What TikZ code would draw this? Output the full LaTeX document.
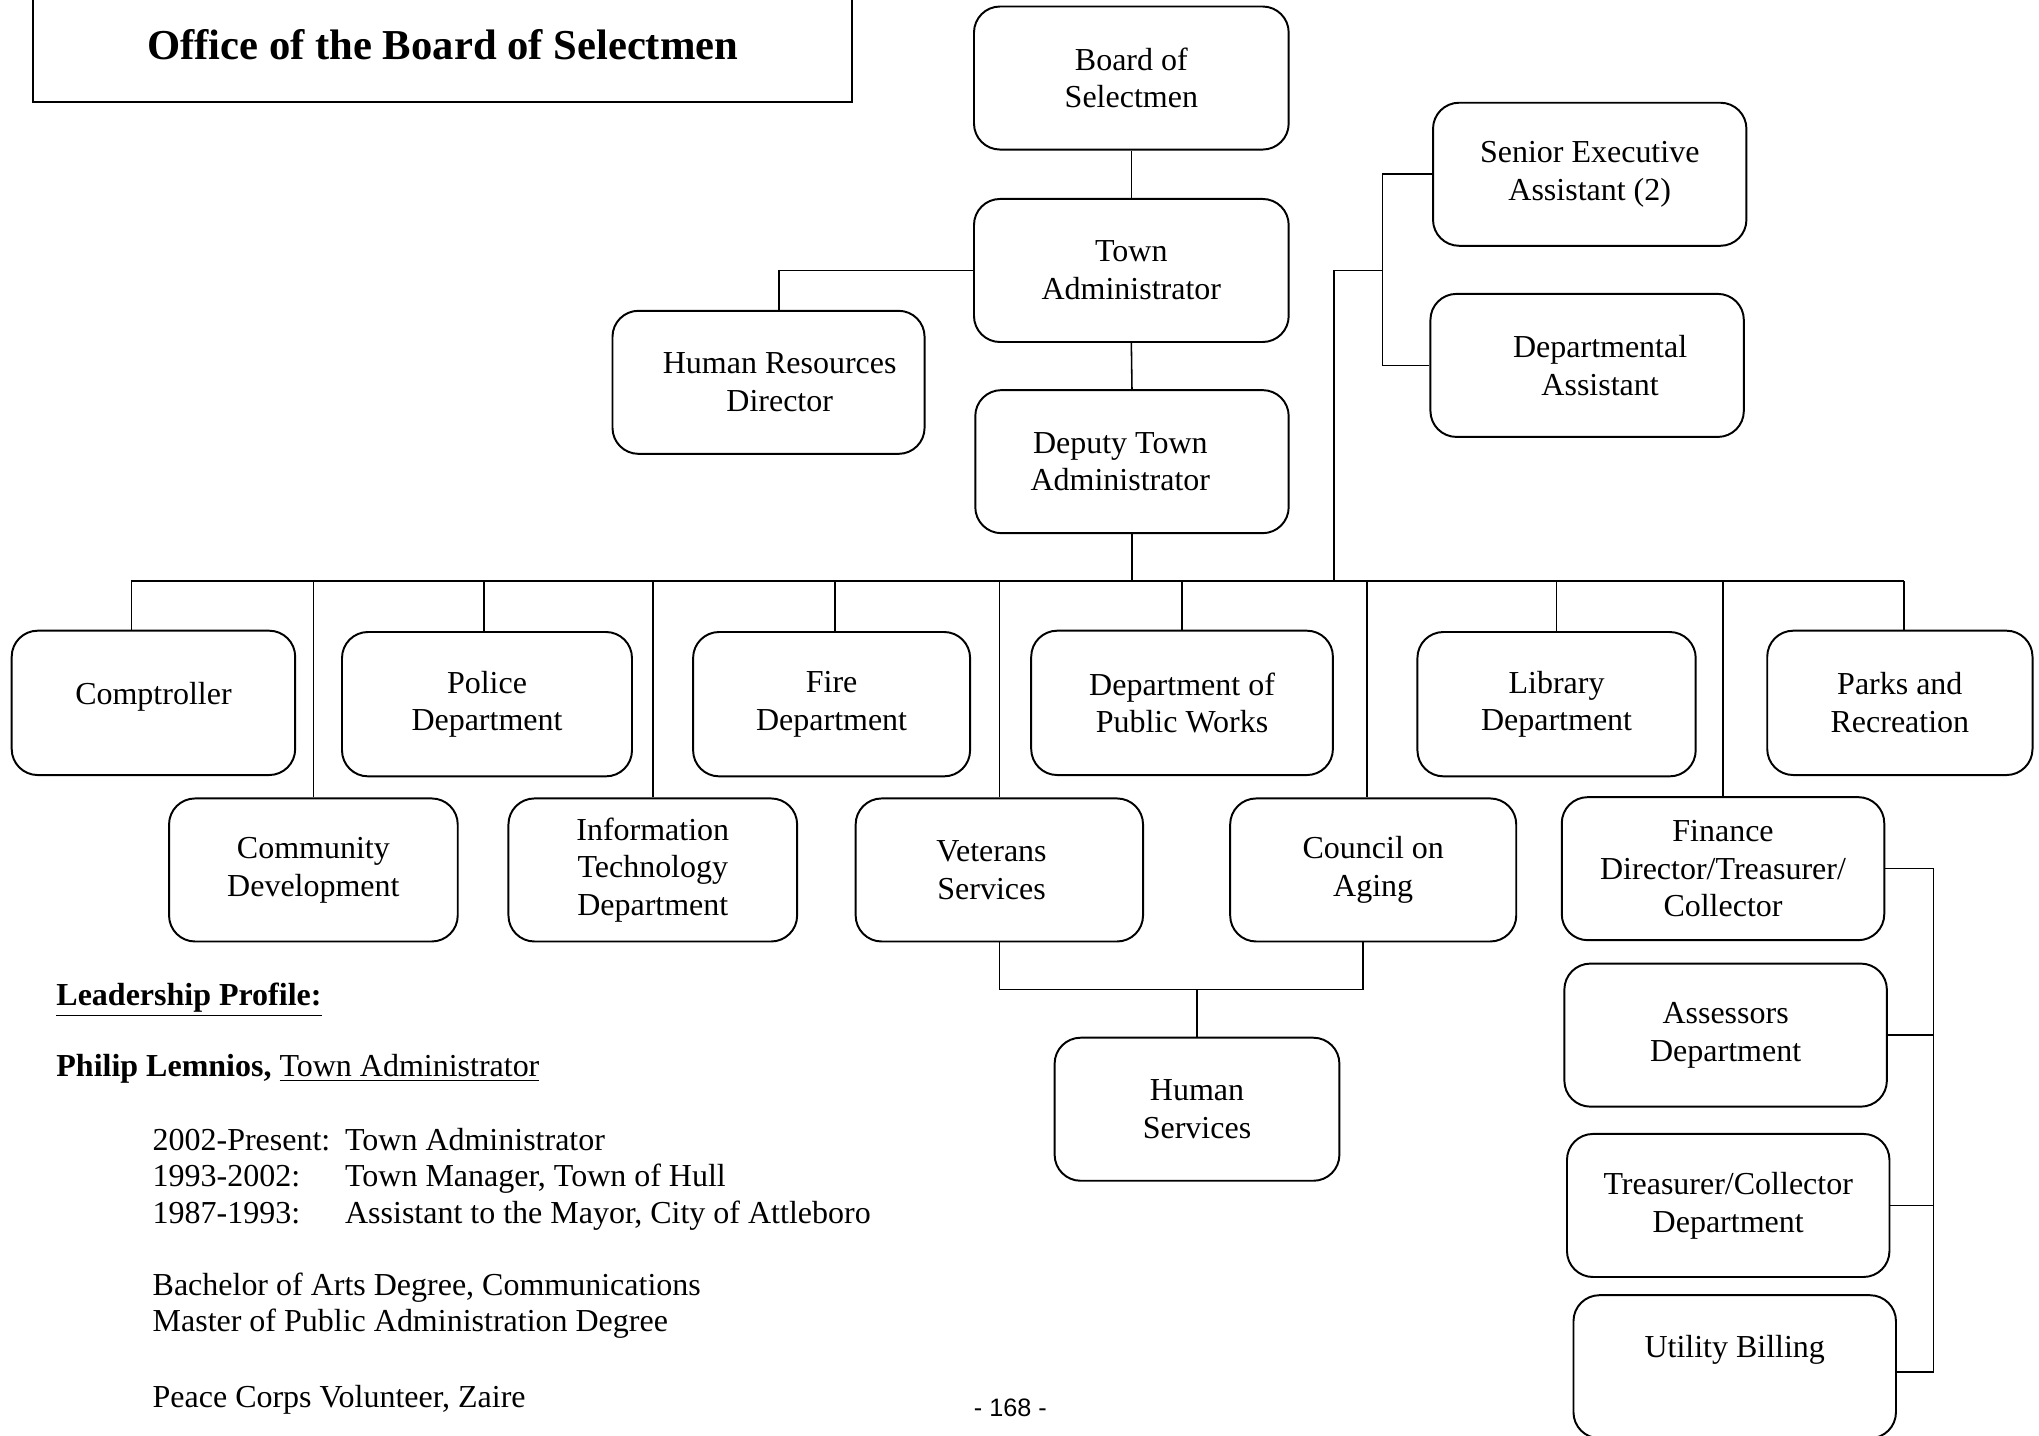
\documentclass[tikz,border=0pt]{standalone}
\usepackage{fontspec}
\setmainfont{Liberation Serif}
\newfontfamily\pagenumfont{Liberation Sans}
\newcommand\orgfont{\fontsize{12.3}{14.5}\selectfont}
\newcommand\orgtitlefont{\fontsize{16.4}{19}\selectfont\bfseries}
\newcommand\orgbodyfont{\fontsize{12.3}{14}\selectfont}
\begin{document}
\begin{tikzpicture}[x=0.5pt,y=-0.5pt,
  box/.style={draw, line width=0.75pt, rounded corners=10pt, minimum height=55pt,
              inner sep=0pt, align=center, font=\orgfont},
  conn/.style={line width=0.6pt},
  busline/.style={line width=0.8pt},
  txt/.style={anchor=base west, inner sep=0pt, font=\orgbodyfont}]
\useasboundingbox (0,0) rectangle (1568,1104);

% title
\node[minimum width=314.5pt, minimum height=39pt, inner sep=0pt,
      text height=22.8pt, text depth=16.2pt, font=\orgtitlefont]
      (title) at (340.5,39) {Office of the Board of Selectmen};
\draw[line width=0.9pt] (title.north west) -- (title.south west) -- (title.south east) -- (title.north east);

% upper boxes
\node[box, minimum width=121pt] (bos) at (870,60) {Board of\\Selectmen};
\node[box, minimum width=121pt] (ta) at (870,208) {Town\\Administrator};
\node[box, minimum width=120.5pt] (dta) at (870.5,355) {Deputy Town\hspace*{9pt}\\Administrator\hspace*{9pt}};
\node[box, minimum width=120pt] (hr) at (591,294) {\hspace*{8.6pt}Human Resources\\\hspace*{8.6pt}Director};
\node[box, minimum width=120.5pt] (sea) at (1222.5,134) {Senior Executive\\Assistant (2)};
\node[box, minimum width=120.5pt] (da) at (1220.5,281) {\hspace*{10pt}Departmental\\\hspace*{10pt}Assistant};

% top row
\node[box, minimum width=109pt, minimum height=55.5pt, text height=28.5pt, text depth=27pt]
     (comp) at (118,540.5) {Comptroller};
\node[box, minimum width=111.5pt, minimum height=55.5pt] (police) at (374.5,541.5) {Police\\Department};
\node[box, minimum width=106.5pt, minimum height=55.5pt] (fire) at (639.5,541.5) {Fire\\Department};
\node[box, minimum width=116pt, minimum height=55.5pt] (dpw) at (909,540.5) {Department of\\Public Works};
\node[box, minimum width=107pt, minimum height=55.5pt] (lib) at (1197,541.5) {Library\\Department};
\node[box, minimum width=102pt, minimum height=55.5pt] (parks) at (1461,540.5) {Parks and\\Recreation};

% second row
\node[box, minimum width=111pt] (cd) at (241,669) {Community\\Development};
\node[box, minimum width=111pt] (it) at (502,669) {Information\\Technology\\Department};
\node[box, minimum width=110.5pt] (vet) at (768.5,669) {Veterans\hspace*{6pt}\\Services\hspace*{6pt}};
\node[box, minimum width=110pt] (coa) at (1056,669) {Council on\\Aging};
\node[box, minimum width=124pt] (fin) at (1325,668) {Finance\\Director/Treasurer/\\Collector};

% lower boxes
\node[box, minimum width=109.5pt] (hs) at (920.5,853) {Human\\Services};
\node[box, minimum width=124pt] (ass) at (1327,796) {Assessors\\Department};
\node[box, minimum width=124pt] (tc) at (1329,927) {Treasurer/Collector\\Department};
\node[box, minimum width=124pt, text height=24pt, text depth=31pt] (ub) at (1334,1051) {Utility Billing};

% connectors top
\draw[conn] (bos.south) -- (ta.north);
\draw[conn] (ta.south) -- (dta.north);
\coordinate (hrtop) at ([xshift=4pt]hr.north);
\draw[conn] (ta.west) -| (hrtop);
\coordinate (sx) at (1063,208);
\coordinate (sx2) at (1026,208);
\draw[conn] (sea.west) -| (sx) |- (da.west);

% bus
\coordinate (busL) at (101,447);
\coordinate (busR) at (1464,447);
\draw[busline] (busL) -- (busR);
\draw[conn] (dta.south) -- (dta.south |- busL);
\draw[conn] (sx) -- (sx2) -- (sx2 |- busL);

% drops to top row
\coordinate (compt) at ([xshift=-8.5pt]comp.north);
\draw[conn] (compt |- busL) -- (compt);
\coordinate (polt) at ([xshift=-1.2pt]police.north);
\draw[conn] (polt |- busL) -- (polt);
\coordinate (firet) at ([xshift=1.2pt]fire.north);
\draw[conn] (firet |- busL) -- (firet);
\draw[conn] (dpw.north |- busL) -- (dpw.north);
\draw[conn] (lib.north |- busL) -- (lib.north);
\coordinate (parkt) at ([xshift=1.5pt]parks.north);
\draw[conn] (parkt |- busL) -- (parkt);

% drops to second row
\draw[conn] (cd.north |- busL) -- (cd.north);
\draw[conn] (it.north |- busL) -- (it.north);
\draw[conn] (vet.north |- busL) -- (vet.north);
\coordinate (coat) at ([xshift=-2.5pt]coa.north);
\draw[conn] (coat |- busL) -- (coat);
\draw[conn] (fin.north |- busL) -- (fin.north);

% human services
\coordinate (hsbar) at (0,761);
\coordinate (coab) at ([xshift=-4pt]coa.south);
\draw[conn] (vet.south) -- (vet.south |- hsbar) -- (coab |- hsbar) -- (coab);
\draw[conn] (hs.north |- hsbar) -- (hs.north);

% finance sub
\coordinate (fx) at (1487,668);
\coordinate (ube) at ([yshift=-2pt]ub.east);
\draw[conn] (fin.east) -- (fx) -- (fx |- ube);
\draw[conn] (ass.east) -- (ass.east -| fx);
\draw[conn] (tc.east) -- (tc.east -| fx);
\draw[conn] (ube) -- (ube -| fx);

% leadership profile
\node[txt] (lp) at (43,773) {\textbf{\underline{Leadership Profile:}}};
\node[txt] (pl) at (43,828) {\textbf{Philip Lemnios,} \underline{Town Administrator}};
\node[txt] (y1) at (117,884.5) {2002-Present:};
\node[txt] (r1) at (265,884.5) {Town Administrator};
\node[txt] (y2) at (117,912.5) {1993-2002:};
\node[txt] (r2) at (265,912.5) {Town Manager, Town of Hull};
\node[txt] (y3) at (117,940.5) {1987-1993:};
\node[txt] (r3) at (265,940.5) {Assistant to the Mayor, City of Attleboro};
\node[txt] (ed1) at (117,996.5) {Bachelor of Arts Degree, Communications};
\node[txt] (ed2) at (117,1024) {Master of Public Administration Degree};
\node[txt] (pc) at (117,1082) {Peace Corps Volunteer, Zaire};
\node[anchor=base, inner sep=0pt, font=\pagenumfont\fontsize{9.7}{11}\selectfont] (pg) at (777,1089.5) {- 168 -};
\end{tikzpicture}
\end{document}
